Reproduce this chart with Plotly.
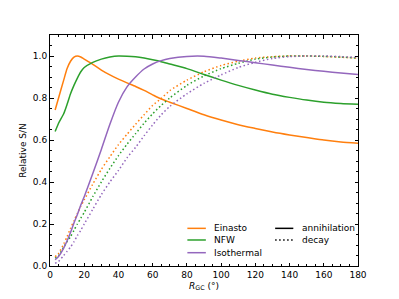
import plotly.graph_objects as go

r_gc = [3, 5, 8, 10, 12, 14, 16, 18, 20, 25, 30, 35, 40, 45, 50, 55, 60, 65, 70,
        80, 90, 100, 110, 120, 130, 140, 150, 160, 170, 180]

einasto_ann = [0.743, 0.80, 0.885, 0.94, 0.975, 0.995, 1.0, 0.995, 0.985, 0.96, 0.933, 0.91,
               0.89, 0.872, 0.855, 0.836, 0.815, 0.795, 0.78, 0.75, 0.72, 0.695, 0.673,
               0.655, 0.638, 0.624, 0.612, 0.60, 0.591, 0.585]
nfw_ann = [0.64, 0.68, 0.725, 0.77, 0.82, 0.86, 0.895, 0.925, 0.945, 0.97, 0.985, 0.995,
           1.0, 0.999, 0.996, 0.99, 0.982, 0.973, 0.962, 0.94, 0.912, 0.885, 0.86,
           0.838, 0.818, 0.803, 0.79, 0.78, 0.774, 0.77]
iso_ann = [0.03, 0.045, 0.085, 0.12, 0.16, 0.205, 0.245, 0.29, 0.33, 0.44, 0.555, 0.675,
           0.78, 0.853, 0.90, 0.938, 0.962, 0.978, 0.988, 0.998, 0.999, 0.99, 0.979,
           0.968, 0.957, 0.946, 0.936, 0.927, 0.919, 0.912]

einasto_dec = [0.044, 0.06, 0.105, 0.14, 0.18, 0.215, 0.25, 0.285, 0.315, 0.39, 0.46, 0.52,
               0.578, 0.627, 0.675, 0.72, 0.765, 0.798, 0.835, 0.885, 0.925, 0.955, 0.975,
               0.99, 0.997, 1.0, 1.0, 0.998, 0.994, 0.99]
nfw_dec = [0.037, 0.05, 0.09, 0.115, 0.14, 0.17, 0.20, 0.228, 0.255, 0.33, 0.40, 0.465,
           0.525, 0.58, 0.63, 0.68, 0.725, 0.765, 0.80, 0.86, 0.905, 0.94, 0.965,
           0.985, 0.995, 1.0, 1.0, 0.998, 0.995, 0.99]
iso_dec = [0.013, 0.022, 0.05, 0.07, 0.09, 0.115, 0.145, 0.17, 0.20, 0.27, 0.34, 0.40,
           0.455, 0.515, 0.565, 0.62, 0.672, 0.72, 0.76, 0.82, 0.87, 0.91, 0.945,
           0.97, 0.988, 0.997, 1.0, 1.0, 0.997, 0.993]

profiles = ["Einasto", "NFW", "Isothermal"]
colors = ["#ff7f0e", "#2ca02c", "#9467bd"]
ann_series = [einasto_ann, nfw_ann, iso_ann]
dec_series = [einasto_dec, nfw_dec, iso_dec]
channels = ["annihilation", "decay"]

LW = 1.5
DOT = "1.5px,2.5px"
FS = 9

fig = go.Figure()
for name, col, ann, dec in zip(profiles, colors, ann_series, dec_series):
    fig.add_trace(go.Scatter(x=r_gc, y=ann, mode="lines", name=name + " annihilation",
                             line=dict(color=col, width=LW, shape="spline", smoothing=0.6)))
    fig.add_trace(go.Scatter(x=r_gc, y=dec, mode="lines", name=name + " decay",
                             line=dict(color=col, width=LW, shape="spline", smoothing=0.6,
                                       dash=DOT)))

# Two-column legend (matplotlib-style, compact rows) built in the plot-area frame
row_y = [0.163, 0.1126, 0.0576]
col1 = dict(x0=0.446, x1=0.506, tx=0.527)
col2 = dict(x0=0.731, x1=0.790, tx=0.812)
shapes, annotations = [], []
font = dict(family="DejaVu Sans", size=FS, color="black")
for name, col, yy in zip(profiles, colors, row_y):
    shapes.append(dict(type="line", xref="paper", yref="paper", x0=col1["x0"], x1=col1["x1"],
                       y0=yy, y1=yy, line=dict(color=col, width=LW)))
    annotations.append(dict(xref="paper", yref="paper", x=col1["tx"], y=yy, text=name,
                            showarrow=False, xanchor="left", yanchor="middle", font=font))
for ch, dash, yy in zip(channels, ["solid", DOT], row_y):
    shapes.append(dict(type="line", xref="paper", yref="paper", x0=col2["x0"], x1=col2["x1"],
                       y0=yy, y1=yy, line=dict(color="black", width=LW, dash=dash)))
    annotations.append(dict(xref="paper", yref="paper", x=col2["tx"], y=yy, text=ch,
                            showarrow=False, xanchor="left", yanchor="middle", font=font))

axis_common = dict(showline=True, linecolor="black", linewidth=1, mirror="allticks",
                   ticks="inside", ticklen=3.5, tickwidth=1, tickcolor="black",
                   showgrid=False, zeroline=False, tickfont=font, automargin=False)

fig.update_layout(
    width=399, height=299,
    margin=dict(l=50, r=41, t=35, b=33),
    paper_bgcolor="white", plot_bgcolor="white",
    font=font,
    showlegend=False,
    shapes=shapes,
    annotations=annotations,
    xaxis=dict(range=[0, 180], dtick=20, tick0=0,
               minor=dict(dtick=5, ticks="inside", ticklen=2, tickcolor="black"),
               title=dict(text="<i>R</i><sub>GC</sub> (°)", font=font, standoff=3),
               **axis_common),
    yaxis=dict(range=[0, 1.1], dtick=0.2, tick0=0, tickformat=".1f",
               minor=dict(dtick=0.05, ticks="inside", ticklen=2, tickcolor="black"),
               title=dict(text="Relative S/N", font=font, standoff=4),
               **axis_common),
)

fig.write_html("out.html", config={"displayModeBar": False},
               post_script="document.body.style.margin='0';document.body.style.padding='0';")
